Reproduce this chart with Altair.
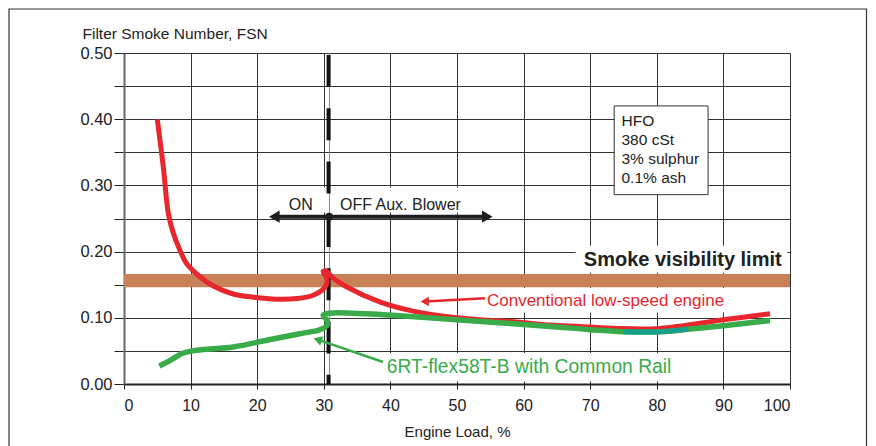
import altair as alt
import pandas as pd

FONT = "Liberation Sans"

# ---------------- data ----------------
red_x = [5.0, 5.9, 6.65, 7.4, 8.4, 9.4, 11.4, 13.4, 16.4, 19.5, 22.9, 26.0, 28.4, 29.9, 30.5, 30.3,
         29.9, 30.3, 31.4, 33.4, 38.4, 43.4, 49.9, 58.5, 64.0, 68.5, 74.0, 80.5, 90.0, 97.0]
red_y = [0.400, 0.328, 0.258, 0.228, 0.202, 0.182, 0.162, 0.148, 0.136, 0.131, 0.128, 0.129, 0.134,
         0.143, 0.154, 0.163, 0.170, 0.171, 0.160, 0.147, 0.124, 0.110, 0.100, 0.094, 0.089, 0.087,
         0.084, 0.084, 0.097, 0.106]

green_x = [5.3, 7.0, 8.7, 10.9, 16.4, 21.4, 26.4, 29.4, 30.5, 30.4, 29.9, 30.9, 36.4, 41.4, 48.5,
           58.5, 64.0, 70.0, 75.0, 80.5, 85.0, 90.0, 97.0]
green_y = [0.027, 0.036, 0.046, 0.051, 0.056, 0.066, 0.076, 0.082, 0.089, 0.097, 0.104, 0.107, 0.106,
           0.103, 0.098, 0.091, 0.087, 0.082, 0.079, 0.079, 0.083, 0.088, 0.096]

teal_x = [75.0, 80.5, 84.7]
teal_y = [0.079, 0.079, 0.0825]

x_ticks = [0, 10, 20, 30, 40, 50, 60, 70, 80, 90, 100]
y_ticks = [0.0, 0.05, 0.10, 0.15, 0.20, 0.25, 0.30, 0.35, 0.40, 0.45, 0.50]

smoke_band = [0.146, 0.166]          # smoke visibility limit band (FSN)
blower_switch = 30.72                # aux. blower switch load, %
arrow_level = 0.2528
arrow_span = [22.57, 54.55]

hfo_lines = ["HFO", "380 cSt", "3% sulphur", "0.1% ash"]
hfo_line_y = [0.3897, 0.361, 0.332, 0.3036]
hfo_box = dict(x=73.6, x2=87.7, y=0.286, y2=0.420)

RED = "#e8262d"
GREEN = "#3aab4a"
TEAL = "#16a08c"
BROWN = "#c88058"
INK = "#1e1e1e"

# ---------------- encodings ----------------
xscale = alt.Scale(domain=[0, 100], nice=False, zero=False)
yscale = alt.Scale(domain=[0, 0.5], nice=False, zero=False)

x_axis = alt.Axis(values=x_ticks, grid=True, gridColor="#333", gridWidth=1,
                  tickSize=5, tickColor="#222", domainColor="#222", domainWidth=2,
                  labelFontSize=16, labelColor="#222", labelPadding=8, labelFont=FONT,
                  title="Engine Load, %", titleFont=FONT, titleFontSize=15, titleFontWeight="normal",
                  titleColor="#222", titleY=52, titleBaseline="alphabetic")
y_axis = alt.Axis(values=y_ticks, grid=True, gridColor="#333", gridWidth=1,
                  tickSize=10, tickColor="#222", domainColor="#666", domainWidth=2,
                  labelExpr="round(datum.value*100) % 10 == 0 ? format(datum.value, '.2f') : ''",
                  labelFontSize=16.5, labelColor="#222", labelPadding=2, labelFont=FONT,
                  title="Filter Smoke Number, FSN", titleFont=FONT, titleFontSize=15.5,
                  titleFontWeight="normal", titleColor="#222", titleAngle=0, titleAlign="left",
                  titleX=-42, titleY=-15, titleBaseline="alphabetic")


def X(f="x"):
    return alt.X(f"{f}:Q", scale=xscale, axis=x_axis)


def Y(f="y"):
    return alt.Y(f"{f}:Q", scale=yscale, axis=y_axis)


one = pd.DataFrame({"a": [0]})

# outer frame (right edge at the edge of the drawing)
frame = alt.Chart(one).mark_rect(fill="transparent", stroke="#333", strokeWidth=1.2).encode(
    x=alt.value(-115), x2=alt.value(742.5), y=alt.value(-44), y2=alt.value(420))

# white backgrounds behind annotation texts
bg_df = pd.DataFrame({
    "x": [22.6, 67.8, 54.4, 38.6],
    "x2": [54.6, 99.6, 91.0, 84.0],
    "y": [0.259, 0.168, 0.108, 0.004],
    "y2": [0.297, 0.209, 0.145, 0.047],
})
bgs = alt.Chart(bg_df).mark_rect(color="white").encode(x=X(), x2="x2:Q", y=Y(), y2="y2:Q")

band = alt.Chart(pd.DataFrame({"x": [0], "x2": [100], "y": [smoke_band[0]], "y2": [smoke_band[1]]})) \
    .mark_rect(color=BROWN).encode(x=X(), x2="x2:Q", y=Y(), y2="y2:Q")

box = alt.Chart(pd.DataFrame([hfo_box])).mark_rect(fill="white", stroke="#333", strokeWidth=1) \
    .encode(x=X(), x2="x2:Q", y=Y(), y2="y2:Q")

thin = alt.Chart(pd.DataFrame({"x": [blower_switch + 0.13], "y": [0.0], "y2": [0.5]})) \
    .mark_rule(color="#888", strokeWidth=1).encode(x=X(), y=Y(), y2="y2:Q")

dashed = alt.Chart(pd.DataFrame({"x": [blower_switch], "y": [0.5], "y2": [0.0]})) \
    .mark_rule(color="#111", strokeWidth=4, strokeDash=[32, 21.3], strokeDashOffset=51.3) \
    .encode(x=X(), y=Y(), y2="y2:Q")

red_df = pd.DataFrame({"x": red_x, "y": red_y, "i": range(len(red_x))})
green_df = pd.DataFrame({"x": green_x, "y": green_y, "i": range(len(green_x))})
teal_df = pd.DataFrame({"x": teal_x, "y": teal_y, "i": range(len(teal_x))})

red_line = alt.Chart(red_df).mark_line(color=RED, strokeWidth=5, strokeCap="butt", strokeJoin="round",
                                       interpolate="catmull-rom").encode(x=X(), y=Y(), order="i:Q")
green_line = alt.Chart(green_df).mark_line(color=GREEN, strokeWidth=5.5, strokeCap="butt",
                                           strokeJoin="round", interpolate="catmull-rom") \
    .encode(x=X(), y=Y(), order="i:Q")
teal_line = alt.Chart(teal_df).mark_line(color=TEAL, strokeWidth=5, strokeCap="butt",
                                         interpolate="catmull-rom").encode(x=X(), y=Y(), order="i:Q")

# arrows
arrow_df = pd.DataFrame({
    "x": [arrow_span[0], 54.2, 38.9],
    "x2": [arrow_span[1], 45.2, 29.1],
    "y": [arrow_level, 0.1295, 0.0332],
    "y2": [arrow_level, 0.1248, 0.0671],
    "c": [INK, RED, GREEN],
    "w": [4, 2.5, 2.5],
})
arrows = alt.Chart(arrow_df).mark_rule().encode(
    x=X(), x2="x2:Q", y=Y(), y2="y2:Q",
    color=alt.Color("c:N", scale=None), strokeWidth=alt.StrokeWidth("w:Q", scale=None))

heads_left = pd.DataFrame({"x": [arrow_span[0], 45.15], "y": [arrow_level, 0.1248],
                           "c": [INK, RED], "s": [150, 90]})
heads_l = alt.Chart(heads_left).mark_point(filled=True, opacity=1, shape="triangle-left").encode(
    x=X(), y=Y(), color=alt.Color("c:N", scale=None), size=alt.Size("s:Q", scale=None))
head_r = alt.Chart(pd.DataFrame({"x": [arrow_span[1]], "y": [arrow_level]})).mark_point(
    filled=True, opacity=1, shape="triangle-right", size=150, color=INK).encode(x=X(), y=Y())
head_g = alt.Chart(pd.DataFrame({"x": [29.08], "y": [0.0671]})).mark_point(
    filled=True, opacity=1, shape="triangle-left", size=100, angle=19, color=GREEN).encode(x=X(), y=Y())
dot = alt.Chart(pd.DataFrame({"x": [blower_switch + 0.08], "y": [arrow_level]})).mark_point(
    filled=True, opacity=1, shape="circle", size=60, color=INK).encode(x=X(), y=Y())


# texts
def label(df, **kw):
    return alt.Chart(df).mark_text(font=FONT, baseline="alphabetic", **kw).encode(
        x=X(), y=Y(), text="t:N")


t_on = label(pd.DataFrame({"x": [26.55], "y": [0.2628], "t": ["ON"]}),
             align="center", fontSize=16, color="#222")
t_off = label(pd.DataFrame({"x": [32.43], "y": [0.2628], "t": ["OFF Aux. Blower"]}),
              align="left", fontSize=16, color="#222")
t_smoke = label(pd.DataFrame({"x": [98.75], "y": [0.178], "t": ["Smoke visibility limit"]}),
                align="right", fontSize=20, fontWeight="bold", color="#222")
t_red = label(pd.DataFrame({"x": [54.5], "y": [0.1178], "t": ["Conventional low-speed engine"]}),
              align="left", fontSize=17, color=RED)
t_green = label(pd.DataFrame({"x": [39.45], "y": [0.0166], "t": ["6RT-flex58T-B with Common Rail"]}),
                align="left", fontSize=19.3, color=GREEN)
t_hfo = label(pd.DataFrame({"x": [74.7] * 4, "y": hfo_line_y, "t": hfo_lines}),
              align="left", fontSize=15.5, color="#222")

chart = alt.layer(
    frame, bgs, band, box, thin, dashed, red_line, green_line, teal_line,
    arrows, heads_l, head_r, head_g, dot,
    t_on, t_off, t_smoke, t_red, t_green, t_hfo,
).properties(
    width=666, height=331,
    padding={"left": 116, "top": 45, "right": 78, "bottom": 62},
    autosize=alt.AutoSizeParams(type="none"),
    background="white",
).configure_view(stroke=None)

chart.save("out.html", embed_options={"renderer": "svg", "actions": False})
